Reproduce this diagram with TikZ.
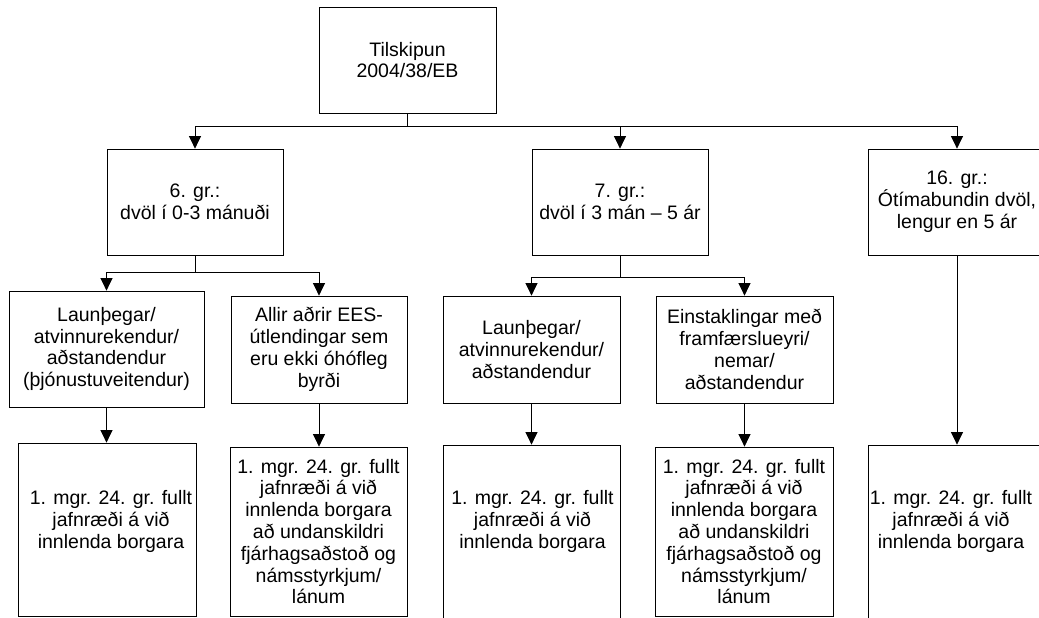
\documentclass[tikz,border=0pt]{standalone}
\usepackage{fontspec}
\setmainfont{Liberation Sans}
\usetikzlibrary{arrows.meta}
\newcommand{\offtext}[3]{\raisebox{#2}[\height][\depth]{\hspace*{#1}\begin{tabular}{@{}c@{}}#3\end{tabular}\hspace*{-#1}}}
\begin{document}
\begin{tikzpicture}[x=1pt,y=-1pt,
  box/.style={draw=black, line width=0.8pt, inner sep=0pt, align=center,
    font=\fontsize{19.5}{21.8}\selectfont},
  link/.style={draw=black, line width=0.8pt},
  arr/.style={link, -{Triangle[width=12pt,length=12.5pt]}}]
\useasboundingbox (0,0) rectangle (1039,618);
\clip (0,0) rectangle (1039,618);

% level 0
\node[box, minimum width=177pt, minimum height=106pt] (top) at (407.5,60) {Tilskipun\\2004/38/EB};

% level 1
\node[box, minimum width=176pt, minimum height=106pt] (g6) at (195,202) {6. gr.:\\dvöl í 0-3 mánuði};
\node[box, minimum width=176pt, minimum height=106pt] (g7) at (620,202) {7. gr.:\\dvöl í 3 mán – 5 ár};
\node[box, minimum width=178pt, minimum height=106pt] (g16) at (957,202) {16. gr.:\\Ótímabundin dvöl,\\lengur en 5 ár};

% level 2
\node[box, minimum width=195pt, minimum height=116pt] (l6) at (106.5,349) {Launþegar/\\atvinnurekendur/\\aðstandendur\\(þjónustuveitendur)};
\node[box, minimum width=176pt, minimum height=107pt] (a6) at (319,349.5) {Allir aðrir EES-\\útlendingar sem\\eru ekki óhófleg\\byrði};
\node[box, minimum width=177pt, minimum height=107pt] (l7) at (531.5,349.5) {Launþegar/\\atvinnurekendur/\\aðstandendur};
\node[box, minimum width=177pt, minimum height=107pt] (e7) at (744.5,349.5) {Einstaklingar með\\framfærslueyri/\\nemar/\\aðstandendur};

% level 3
\node[box, minimum width=178pt, minimum height=173pt] (r1) at (107,529.5) {\offtext{4pt}{7.5pt}{1. mgr. 24. gr. fullt\\jafnræði á við\\innlenda borgara}};
\node[box, minimum width=177pt, minimum height=169pt] (r2) at (318.5,531.5) {1. mgr. 24. gr. fullt\\jafnræði á við\\innlenda borgara\\að undanskildri\\fjárhagsaðstoð og\\námsstyrkjum/\\lánum};
\node[box, minimum width=177pt, minimum height=180pt] (r3) at (531.5,535) {\offtext{1pt}{13pt}{1. mgr. 24. gr. fullt\\jafnræði á við\\innlenda borgara}};
\node[box, minimum width=178pt, minimum height=169pt] (r4) at (744,531.5) {1. mgr. 24. gr. fullt\\jafnræði á við\\innlenda borgara\\að undanskildri\\fjárhagsaðstoð og\\námsstyrkjum/\\lánum};
\node[box, minimum width=178pt, minimum height=180pt] (r5) at (957,535) {\offtext{-6pt}{13pt}{1. mgr. 24. gr. fullt\\jafnræði á við\\innlenda borgara}};

% connectors level 0 -> 1
\path (top.south) ++(0,13) coordinate (bus);
\draw[link] (top.south) -- (bus);
\draw[arr] (bus) -| (g6.north);
\draw[arr] (bus) -| (g7.north);
\draw[arr] (bus) -| (g16.north);

% 6. gr. branch
\path (g6.south) ++(0,17) coordinate (br6);
\draw[link] (g6.south) -- (br6);
\draw[arr] (br6) -| (l6.north);
\draw[arr] (br6) -| (a6.north);

% 7. gr. branch
\path (g7.south) ++(0,22) coordinate (br7);
\draw[link] (g7.south) -- (br7);
\draw[arr] (br7) -| (l7.north);
\draw[arr] (br7) -| (e7.north);

% level 2 -> 3
\draw[arr] (l6.south) -- (l6.south |- r1.north);
\draw[arr] (a6.south) -- (a6.south |- r2.north);
\draw[arr] (l7.south) -- (l7.south |- r3.north);
\draw[arr] (e7.south) -- (e7.south |- r4.north);
\draw[arr] (g16.south) -- (r5.north);
\end{tikzpicture}
\end{document}
